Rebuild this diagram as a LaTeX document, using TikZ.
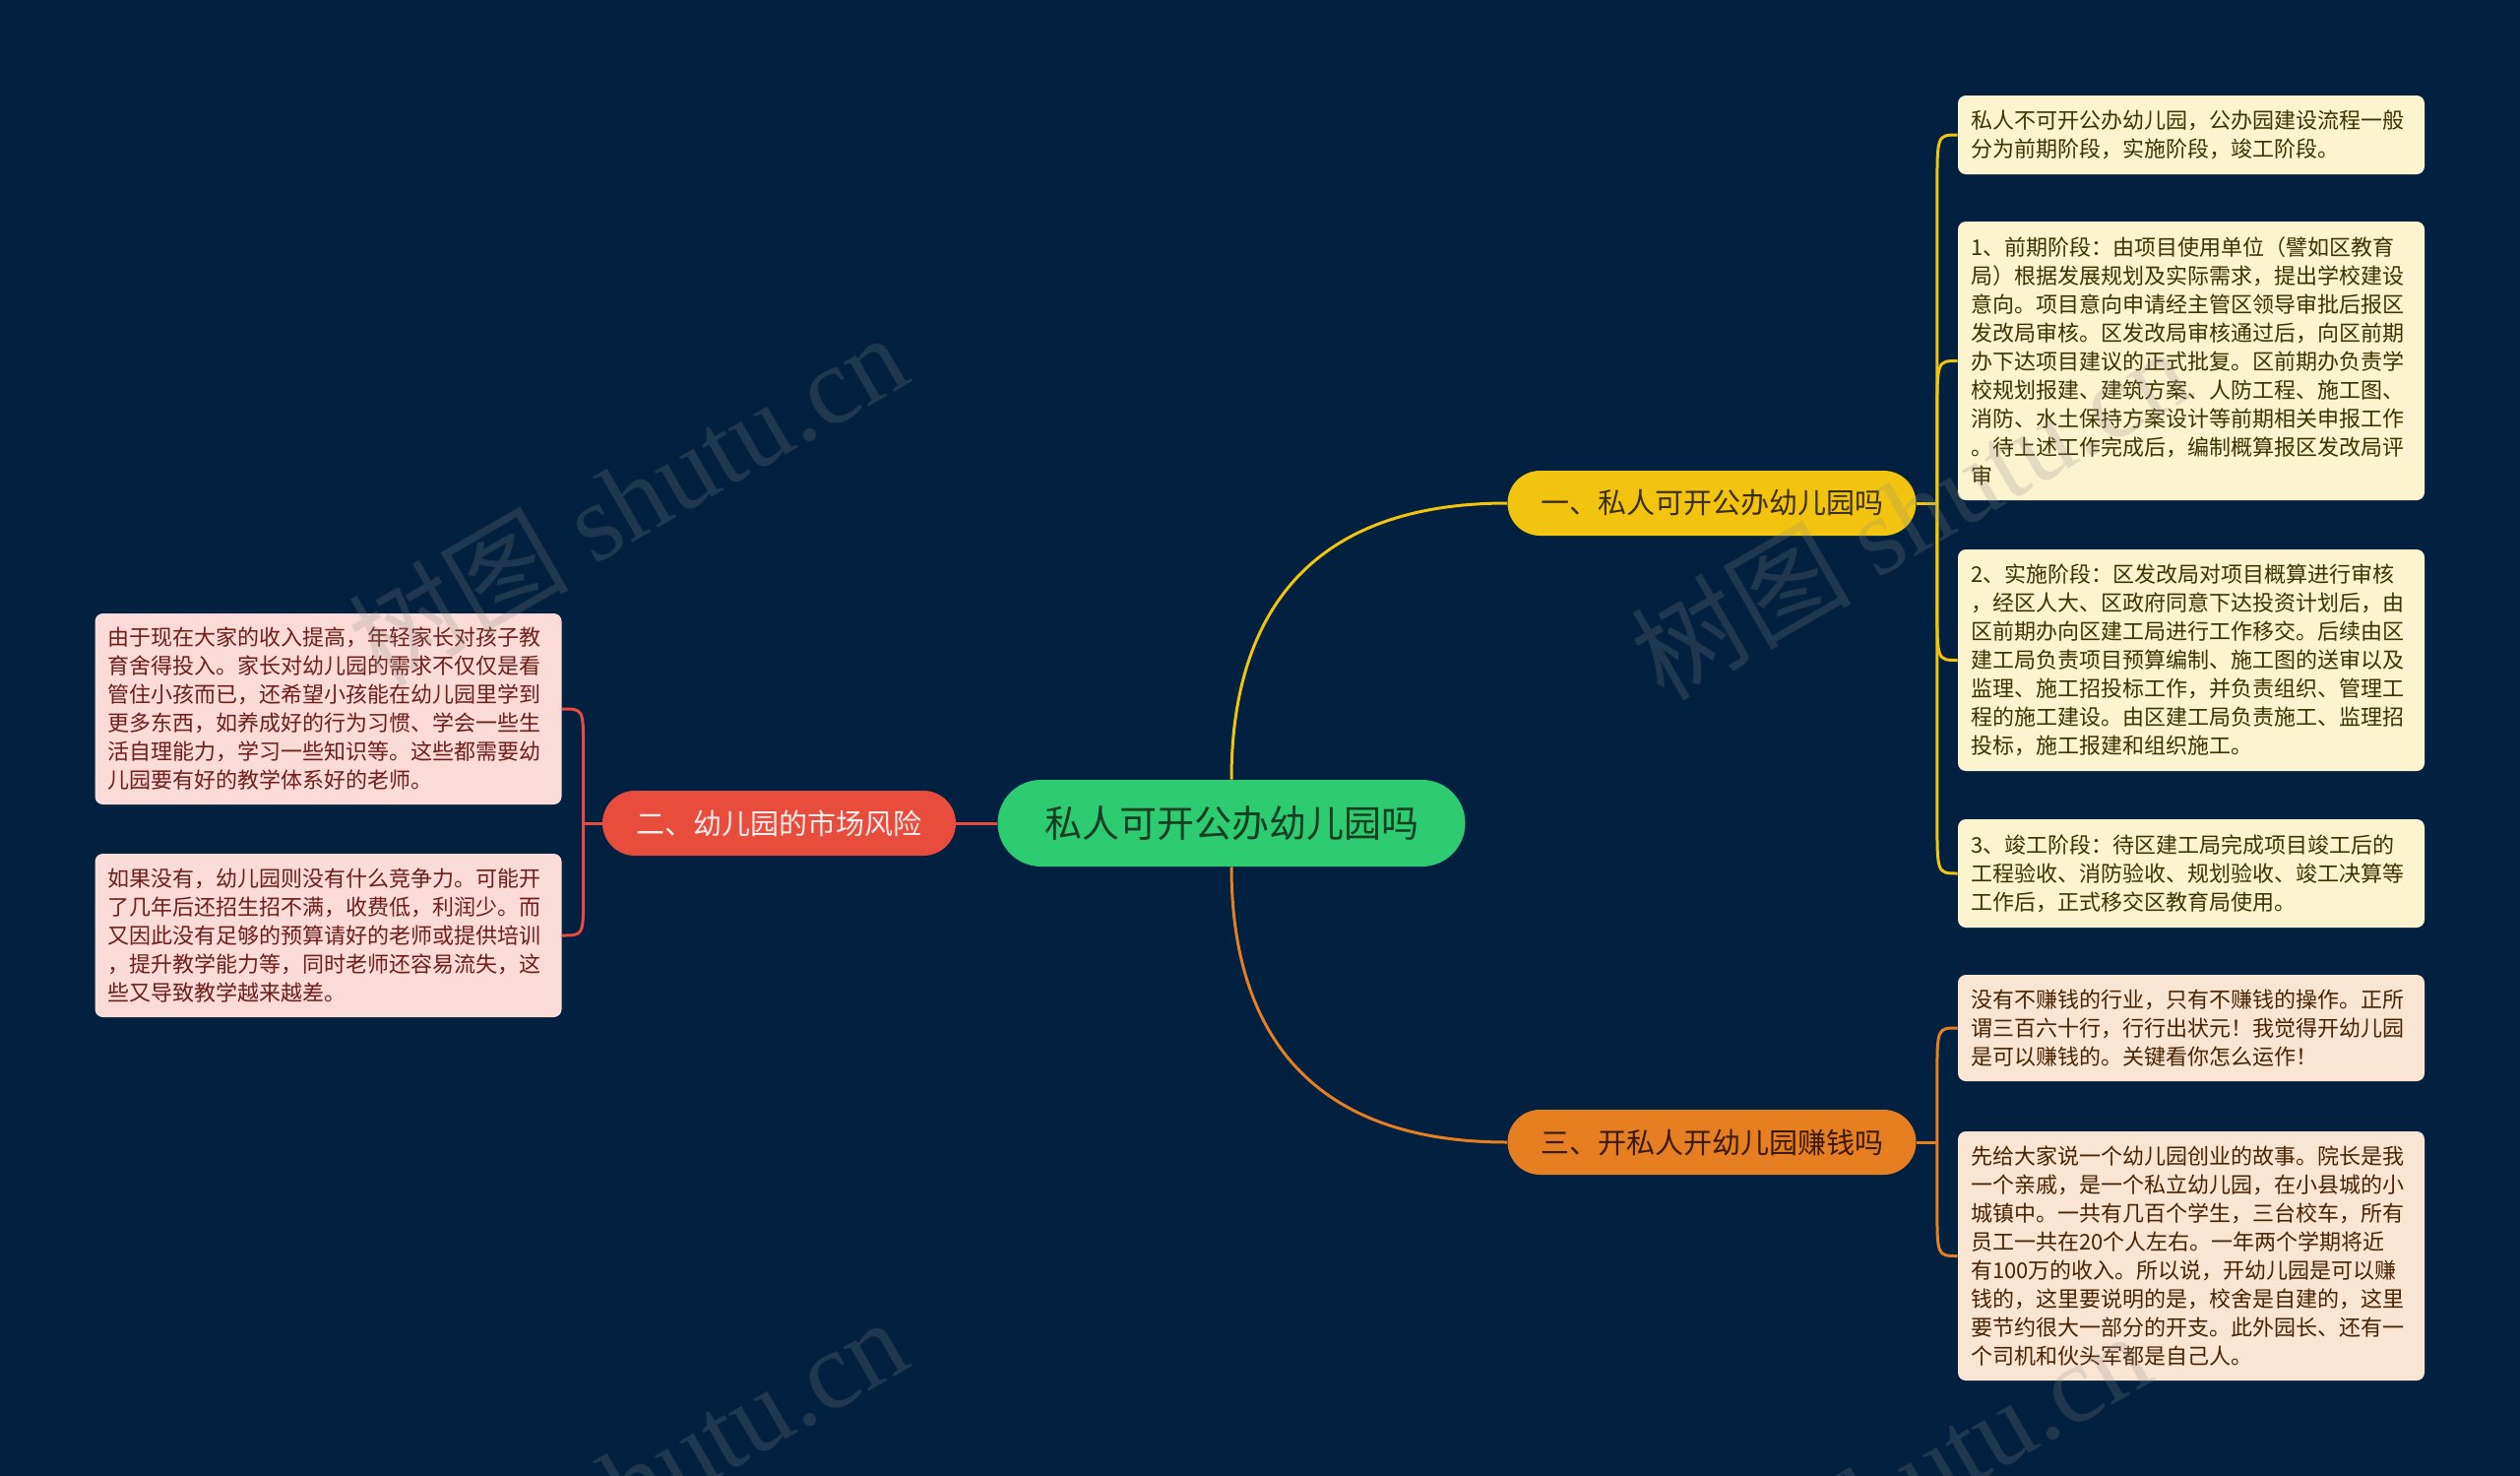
\documentclass[tikz,border=0pt]{standalone}
\usepackage{fontspec}
\setmainfont{Noto Sans CJK SC}
\newfontfamily\wmfont{Liberation Serif}
\usetikzlibrary{calc}
\definecolor{bg}{HTML}{02203F}
\definecolor{rootfill}{HTML}{2ECC71}
\definecolor{roottext}{HTML}{143D22}
\definecolor{yel}{HTML}{F1C40F}
\definecolor{yeltext}{HTML}{3B2E00}
\definecolor{red}{HTML}{E74C3C}
\definecolor{redtext}{HTML}{FDEDEC}
\definecolor{ora}{HTML}{E67E22}
\definecolor{oratext}{HTML}{3A1A00}
\definecolor{yleaf}{HTML}{FCF3CF}
\definecolor{yleaftext}{HTML}{3D3300}
\definecolor{oleaf}{HTML}{FAE5D3}
\definecolor{oleaftext}{HTML}{4A2300}
\definecolor{rleaf}{HTML}{FADBD8}
\definecolor{rleaftext}{HTML}{6E1F18}
\definecolor{wmgray}{HTML}{8A8A8A}
\tikzset{
  rootbox/.style={fill=rootfill, text=roottext, rounded corners=22pt, minimum width=237.5pt, minimum height=44pt, inner sep=0pt, font=\fontsize{19pt}{22pt}\selectfont},
  branchbox/.style={rounded corners=16.5pt, minimum height=33pt, inner sep=0pt, font=\fontsize{14.5pt}{17pt}\selectfont},
  leafbox/.style={rounded corners=4pt, text width=224pt, inner xsep=6.5pt, inner ysep=5pt, align=left, font=\fontsize{11pt}{14.5pt}\selectfont},
  yleafbox/.style={leafbox, fill=yleaf, text=yleaftext},
  oleafbox/.style={leafbox, fill=oleaf, text=oleaftext},
  rleafbox/.style={leafbox, fill=rleaf, text=rleaftext},
  link/.style={line width=1.5pt},
  wm/.style={text=wmgray, opacity=0.22, font=\fontsize{56pt}{60pt}\selectfont, rotate=30},
}
\begin{document}
\begin{tikzpicture}[x=0.5pt,y=-0.5pt]
\fill[bg] (0,0) rectangle (2560,1499);
\useasboundingbox (0,0) rectangle (2560,1499);

% central and main branches
\node[rootbox] (root) at (1251,836) {私人可开公办幼儿园吗};
\node[branchbox, fill=yel, text=yeltext, minimum width=207.5pt] (b1) at (1739,511) {一、私人可开公办幼儿园吗};
\node[branchbox, fill=red, text=redtext, minimum width=179.5pt] (b2) at (791.5,836) {二、幼儿园的市场风险};
\node[branchbox, fill=ora, text=oratext, minimum width=207.5pt] (b3) at (1739,1160) {三、开私人开幼儿园赚钱吗};

% leaves right, branch 1
\node[yleafbox, minimum height=40pt] (l1) at (2226,137) {私人不可开公办幼儿园，公办园建设流程一般\\分为前期阶段，实施阶段，竣工阶段。};
\node[yleafbox, minimum height=141.5pt] (l2) at (2226,366.5) {1、前期阶段：由项目使用单位（譬如区教育\\局）根据发展规划及实际需求，提出学校建设\\意向。项目意向申请经主管区领导审批后报区\\发改局审核。区发改局审核通过后，向区前期\\办下达项目建议的正式批复。区前期办负责学\\校规划报建、建筑方案、人防工程、施工图、\\消防、水土保持方案设计等前期相关申报工作\\。待上述工作完成后，编制概算报区发改局评\\审};
\node[yleafbox, minimum height=112.5pt] (l3) at (2226,670.5) {2、实施阶段：区发改局对项目概算进行审核\\，经区人大、区政府同意下达投资计划后，由\\区前期办向区建工局进行工作移交。后续由区\\建工局负责项目预算编制、施工图的送审以及\\监理、施工招投标工作，并负责组织、管理工\\程的施工建设。由区建工局负责施工、监理招\\投标，施工报建和组织施工。};
\node[yleafbox, minimum height=55pt] (l4) at (2226,887) {3、竣工阶段：待区建工局完成项目竣工后的\\工程验收、消防验收、规划验收、竣工决算等\\工作后，正式移交区教育局使用。};

% leaves right, branch 3
\node[oleafbox, minimum height=54pt] (l5) at (2226,1044) {没有不赚钱的行业，只有不赚钱的操作。正所\\谓三百六十行，行行出状元！我觉得开幼儿园\\是可以赚钱的。关键看你怎么运作！};
\node[oleafbox, minimum height=126.5pt] (l6) at (2226,1275.5) {先给大家说一个幼儿园创业的故事。院长是我\\一个亲戚，是一个私立幼儿园，在小县城的小\\城镇中。一共有几百个学生，三台校车，所有\\员工一共在20个人左右。一年两个学期将近\\有100万的收入。所以说，开幼儿园是可以赚\\钱的，这里要说明的是，校舍是自建的，这里\\要节约很大一部分的开支。此外园长、还有一\\个司机和伙头军都是自己人。};

% leaves left, branch 2
\node[rleafbox, minimum height=97pt] (l7) at (333.5,720) {由于现在大家的收入提高，年轻家长对孩子教\\育舍得投入。家长对幼儿园的需求不仅仅是看\\管住小孩而已，还希望小孩能在幼儿园里学到\\更多东西，如养成好的行为习惯、学会一些生\\活自理能力，学习一些知识等。这些都需要幼\\儿园要有好的教学体系好的老师。};
\node[rleafbox, minimum height=83pt] (l8) at (333.5,950) {如果没有，幼儿园则没有什么竞争力。可能开\\了几年后还招生招不满，收费低，利润少。而\\又因此没有足够的预算请好的老师或提供培训\\，提升教学能力等，同时老师还容易流失，这\\些又导致教学越来越差。};

% root to branches
\draw[link, yel] (root.north) .. controls ($(root.north)!0.5!(root.north|-b1.west)$) and ($(b1.west)!0.8!(b1.west-|root.north)$) .. (b1.west);
\draw[link, ora] (root.south) .. controls ($(root.south)!0.5!(root.south|-b3.west)$) and ($(b3.west)!0.8!(b3.west-|root.south)$) .. (b3.west);
\draw[link, red] (root.west) -- (b2.east);

% branch 1 brackets
\coordinate (t1) at ($(b1.east)+(21,0)$);
\draw[link, yel] (b1.east) -- (t1);
\draw[link, yel] (t1) -- ($(t1|-l1.west)+(0,55)$) .. controls (t1|-l1.west) .. (l1.west);
\draw[link, yel] (t1) -- ($(t1|-l2.west)+(0,55)$) .. controls (t1|-l2.west) .. (l2.west);
\draw[link, yel] (t1) -- ($(t1|-l3.west)+(0,-55)$) .. controls (t1|-l3.west) .. (l3.west);
\draw[link, yel] (t1) -- ($(t1|-l4.west)+(0,-55)$) .. controls (t1|-l4.west) .. (l4.west);

% branch 3 brackets
\coordinate (t3) at ($(b3.east)+(21,0)$);
\draw[link, ora] (b3.east) -- (t3);
\draw[link, ora] (t3) -- ($(t3|-l5.west)+(0,50)$) .. controls (t3|-l5.west) .. (l5.west);
\draw[link, ora] (t3) -- ($(t3|-l6.west)+(0,-50)$) .. controls (t3|-l6.west) .. (l6.west);

% branch 2 brackets
\coordinate (t2) at ($(b2.west)+(-19,0)$);
\draw[link, red] (b2.west) -- (t2);
\draw[link, red] (t2) -- ($(t2|-l7.east)+(0,40)$) .. controls (t2|-l7.east) .. (l7.east);
\draw[link, red] (t2) -- ($(t2|-l8.east)+(0,-40)$) .. controls (t2|-l8.east) .. (l8.east);

% watermarks
\node[wm] (wm1) at (637,506) {树图 {\wmfont shutu.cn}};
\node[wm] (wm2) at (1940,520) {树图 {\wmfont shutu.cn}};
\node[wm] (wm3) at (637,1506) {树图 {\wmfont shutu.cn}};
\node[wm] (wm4) at (1900,1520) {树图 {\wmfont shutu.cn}};
\end{tikzpicture}
\end{document}
